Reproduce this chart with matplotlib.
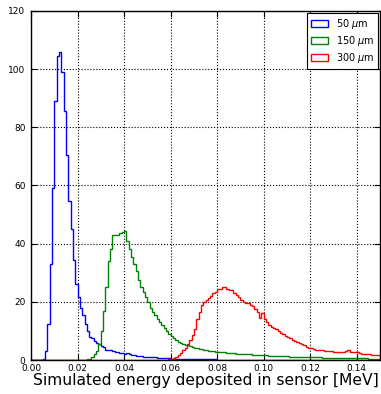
import numpy as np
import matplotlib
matplotlib.use("Agg")
import matplotlib.pyplot as plt

bin_edges = np.round(np.arange(0, 0.1501, 0.001), 4)

blue_50um = [0, 0, 0, 0, 0, 0.4, 3, 12.5, 33, 59,
             89, 104.5, 106, 99, 85.5, 70.5, 54.5, 45, 34.5, 26,
             21.5, 18, 15.5, 12.5, 10, 8, 7.5, 6.5, 6, 5.5,
             4.8, 4.5, 3.6, 3.4, 3.3, 3.1, 2.9, 2.7, 2.5, 2.3,
             2.1, 2.3, 1.9, 1.8, 1.6, 1.5, 1.4, 1.3, 1.2, 1.1,
             1.0, 1.0, 0.9, 0.9, 0.8, 0.8, 0.7, 0.7, 0.6, 0.6,
             0.5, 0.5, 0.4, 0.4, 0.4, 0.3, 0.3, 0.3, 0.3, 0.3,
             0.2, 0.2, 0.2, 0.2, 0.2, 0.2, 0.2, 0.2, 0.2, 0.2,
             0.1, 0.1, 0.1, 0.1, 0.1, 0.1, 0.1, 0.1, 0.1, 0.1,
             0.1, 0.1, 0.1, 0.1, 0.1, 0.1, 0.1, 0.1, 0.1, 0.1,
             0.1, 0.1, 0.1, 0.1, 0.1, 0.1, 0.1, 0.1, 0.1, 0.1,
             0.1, 0.1, 0.1, 0.1, 0.1, 0.1, 0.1, 0.1, 0.1, 0.1,
             0.1, 0.1, 0.1, 0.1, 0.1, 0.1, 0.1, 0.1, 0.1, 0.1,
             0.1, 0.1, 0.1, 0.1, 0.1, 0.1, 0.1, 0.1, 0.1, 0.1,
             0.1, 0.1, 0.1, 0.1, 0.1, 0.1, 0.1, 0.1, 0.1, 0.1]

green_150um = [0, 0, 0, 0, 0, 0, 0, 0, 0, 0,
               0, 0, 0, 0, 0, 0, 0, 0, 0, 0,
               0, 0, 0, 0, 0.2, 0.4, 1, 2, 3, 5.5,
               10, 17, 25, 34, 38, 43, 43, 43, 43.5, 44,
               44.5, 41, 38, 35.5, 33, 30.5, 27.5, 25, 23.5, 21.5,
               20, 18, 16.5, 15.5, 14, 13, 12, 11, 10, 9,
               8.3, 7.4, 6.8, 6.3, 6, 5.5, 5.2, 5, 4.7, 4.5,
               4.2, 4, 3.9, 3.7, 3.5, 3.3, 3.2, 3.1, 3, 2.9,
               2.8, 2.7, 2.7, 2.6, 2.5, 2.4, 2.4, 2.3, 2.2, 2.2,
               2.1, 2.0, 2.0, 1.9, 1.9, 1.8, 1.8, 1.7, 1.7, 1.6,
               1.6, 1.6, 1.5, 1.5, 1.5, 1.4, 1.4, 1.4, 1.3, 1.3,
               1.3, 1.2, 1.2, 1.2, 1.1, 1.1, 1.1, 1.0, 1.0, 1.0,
               1.0, 0.9, 0.9, 0.9, 0.9, 0.8, 0.8, 0.8, 0.8, 0.8,
               0.7, 0.7, 0.7, 0.7, 0.7, 0.7, 0.7, 0.7, 0.7, 0.7,
               0.6, 0.6, 0.6, 0.6, 0.6, 0.5, 0.5, 0.5, 0.5, 0.5]

red_300um = [0, 0, 0, 0, 0, 0, 0, 0, 0, 0,
             0, 0, 0, 0, 0, 0, 0, 0, 0, 0,
             0, 0, 0, 0, 0, 0, 0, 0, 0, 0,
             0, 0, 0, 0, 0, 0, 0, 0, 0, 0,
             0, 0, 0, 0, 0, 0, 0, 0, 0, 0,
             0, 0, 0, 0, 0, 0, 0, 0, 0, 0.2,
             0.3, 0.6, 1.2, 1.7, 2.5, 3.4, 4.2, 5.5, 7, 8.5,
             10.5, 14, 16.5, 19, 20, 20.5, 21.2, 22, 23, 23.5,
             24.3, 24.5, 25, 25, 24.5, 24, 24.2, 23, 22.5, 21.8,
             20.5, 20, 19.7, 19.5, 19, 18.5, 17.5, 16.5, 14.3, 16,
             14, 13, 12, 11.5, 11, 10.5, 10, 9.2, 9, 8.3,
             8, 7.5, 7, 6.5, 6.3, 5.8, 5.6, 5, 4.5, 4,
             4, 3.8, 3.5, 3.4, 3.3, 3.4, 3.2, 3.1, 3, 3.1,
             2.9, 2.8, 2.9, 2.7, 2.6, 3.2, 3.4, 2.9, 2.8, 2.6,
             2.9, 2.5, 2.2, 2.1, 2.0, 1.9, 1.8, 1.7, 1.7, 1.6]

labels = [r"50 $\mu$m", r"150 $\mu$m", r"300 $\mu$m"]
colors = ["#0000ff", "#008000", "#ff0000"]
x_ticks = [0.00, 0.02, 0.04, 0.06, 0.08, 0.10, 0.12, 0.14]
y_ticks = [0, 20, 40, 60, 80, 100, 120]

centers = (bin_edges[:-1] + bin_edges[1:]) / 2

fig = plt.figure(figsize=(3.81, 3.94), dpi=100)
ax = fig.add_axes([31/381, 34/394, 349/381, 349/394])

for vals, lab, col in zip([blue_50um, green_150um, red_300um], labels, colors):
    ax.hist(centers, bins=bin_edges, weights=vals, histtype="step",
            color=col, linewidth=1.0, label=lab)

ax.set_xlim(0, 0.15)
ax.set_ylim(0, 120)
ax.set_xticks(x_ticks)
ax.set_xticklabels([f"{t:.2f}" for t in x_ticks])
ax.set_yticks(y_ticks)
ax.tick_params(direction="in", top=True, right=True, labelsize=6.5, length=4)
ax.tick_params(axis="x", pad=3)
ax.tick_params(axis="y", pad=4)
ax.grid(True, color="black", linestyle=":", linewidth=0.8)
for s in ax.spines.values():
    s.set_linewidth(1.0)
ax.set_xlabel("Simulated energy deposited in sensor [MeV]", fontsize=11.2, labelpad=0)

leg = ax.legend(loc="upper right", fontsize=7, fancybox=False, framealpha=1,
                edgecolor="black", borderaxespad=0.2, handlelength=1.7,
                handletextpad=0.8, labelspacing=0.3, borderpad=0.4)
leg.get_frame().set_linewidth(0.8)

fig.savefig("out.png", dpi=100)
